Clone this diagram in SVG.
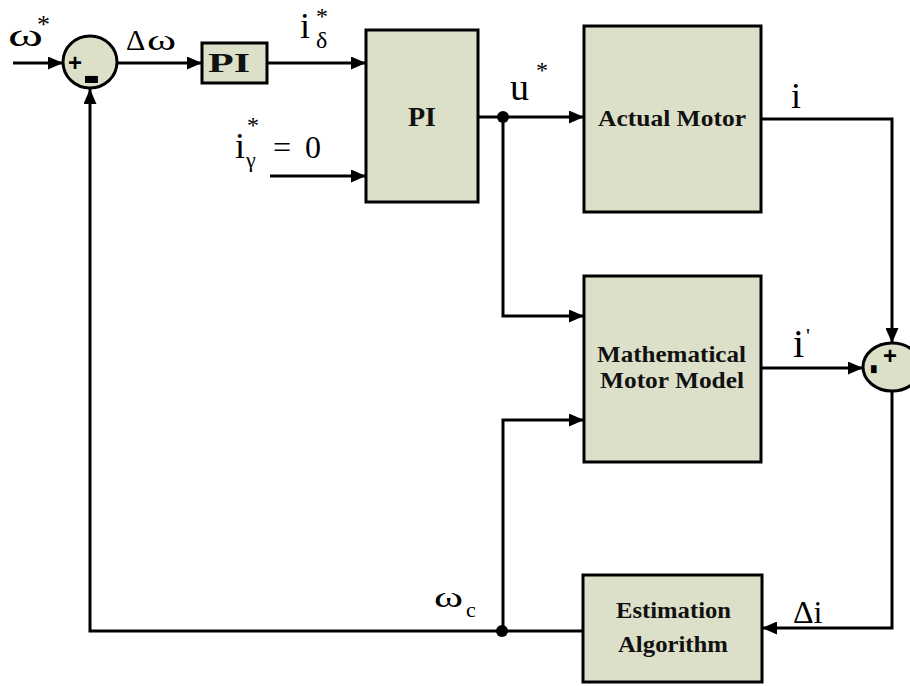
<svg xmlns="http://www.w3.org/2000/svg" width="910" height="686" viewBox="0 0 910 686">
<defs>
<style>
.box{fill:#dde0c9;stroke:#000;stroke-width:3}
.ln{fill:none;stroke:#000;stroke-width:3}
</style>
<marker id="arw" markerWidth="15" markerHeight="13" refX="15" refY="6.5" orient="auto" markerUnits="userSpaceOnUse" viewBox="0 0 15 13">
<path d="M0,0 L15,6.5 L0,13 Z" fill="#000"/>
</marker>
</defs>
<rect width="910" height="686" fill="#fff"/>

<g id="connectors">
<path class="ln" d="M13,63 H63" marker-end="url(#arw)"/>
<path class="ln" d="M116,63 H202" marker-end="url(#arw)"/>
<path class="ln" d="M267,63 H366" marker-end="url(#arw)"/>
<path class="ln" d="M270,176 H366" marker-end="url(#arw)"/>
<path class="ln" d="M478,117 H584" marker-end="url(#arw)"/>
<path class="ln" d="M503,117 V316 H584" marker-end="url(#arw)"/>
<path class="ln" d="M503,631 V420 H584" marker-end="url(#arw)"/>
<path class="ln" d="M761,119 H892 V343" marker-end="url(#arw)"/>
<path class="ln" d="M761,368 H863" marker-end="url(#arw)"/>
<path class="ln" d="M892,391 V628 H762" marker-end="url(#arw)"/>
<path class="ln" d="M583,631 H90 V89" marker-end="url(#arw)"/>
<circle cx="503" cy="117" r="6" fill="#000"/>
<circle cx="502" cy="631" r="6" fill="#000"/>
</g>

<g id="sum1" font-family="Liberation Sans, sans-serif" font-weight="bold" fill="#000">
<ellipse cx="90" cy="62" rx="27" ry="26" class="box"/>
<text x="68" y="71" font-size="24">+</text>
<text transform="translate(83,95) scale(1.5,1.75)" font-size="34">-</text>
</g>

<g id="pi-small" font-family="Liberation Serif, serif" font-weight="bold" fill="#111">
<rect x="202" y="43" width="65" height="40" class="box"/>
<text x="208" y="72" font-size="28" textLength="42" lengthAdjust="spacingAndGlyphs">PI</text>
</g>

<g id="pi-big" font-family="Liberation Serif, serif" font-weight="bold" fill="#111">
<rect x="366" y="30" width="112" height="172" class="box"/>
<text x="422" y="126" font-size="28" text-anchor="middle">PI</text>
</g>

<g id="actual-motor" font-family="Liberation Serif, serif" font-weight="bold" fill="#111">
<rect x="584" y="26" width="177" height="186" class="box"/>
<text x="598" y="126" font-size="23" textLength="148" lengthAdjust="spacingAndGlyphs">Actual Motor</text>
</g>

<g id="math-model" font-family="Liberation Serif, serif" font-weight="bold" fill="#111">
<rect x="584" y="276" width="177" height="186" class="box"/>
<text x="597" y="362" font-size="23" textLength="149" lengthAdjust="spacingAndGlyphs">Mathematical</text>
<text x="600" y="388" font-size="23" textLength="144" lengthAdjust="spacingAndGlyphs">Motor Model</text>
</g>

<g id="sum2" font-family="Liberation Sans, sans-serif" font-weight="bold" fill="#000">
<ellipse cx="892" cy="367" rx="29" ry="24" class="box"/>
<text x="883" y="364" font-size="24">+</text>
<text transform="translate(862,364) rotate(90) scale(1.3,1.9)" font-size="24">-</text>
</g>

<g id="estimation" font-family="Liberation Serif, serif" font-weight="bold" fill="#111">
<rect x="583" y="575" width="179" height="107" class="box"/>
<text x="616" y="618" font-size="23" textLength="115" lengthAdjust="spacingAndGlyphs">Estimation</text>
<text x="618" y="652" font-size="23" textLength="110" lengthAdjust="spacingAndGlyphs">Algorithm</text>
</g>

<g id="labels" font-family="Liberation Serif, serif" fill="#000">
<text x="8" y="46" font-size="32" textLength="35" lengthAdjust="spacingAndGlyphs">ω</text>
<text x="37" y="33" font-size="26">*</text>
<text x="126" y="50" font-size="30">Δ</text>
<text x="147" y="50" font-size="30" textLength="29" lengthAdjust="spacingAndGlyphs">ω</text>
<text x="300" y="38" font-size="36">i</text>
<text x="316" y="24" font-size="24">*</text>
<text x="316" y="48" font-size="24">δ</text>
<text x="235" y="158" font-size="36">i</text>
<text x="247" y="133" font-size="24">*</text>
<text x="246" y="167" font-size="22">γ</text>
<text x="273" y="158" font-size="32">=</text>
<text x="305" y="158" font-size="32">0</text>
<text x="510" y="100" font-size="38">u</text>
<text x="536" y="78" font-size="24">*</text>
<text x="791" y="108" font-size="36">i</text>
<text x="793" y="357" font-size="40">i</text>
<text x="806" y="343" font-size="22">'</text>
<text x="793" y="623" font-size="32">Δi</text>
<text x="434" y="607" font-size="30" textLength="29" lengthAdjust="spacingAndGlyphs">ω</text>
<text x="466" y="617" font-size="22">c</text>
</g>
</svg>
